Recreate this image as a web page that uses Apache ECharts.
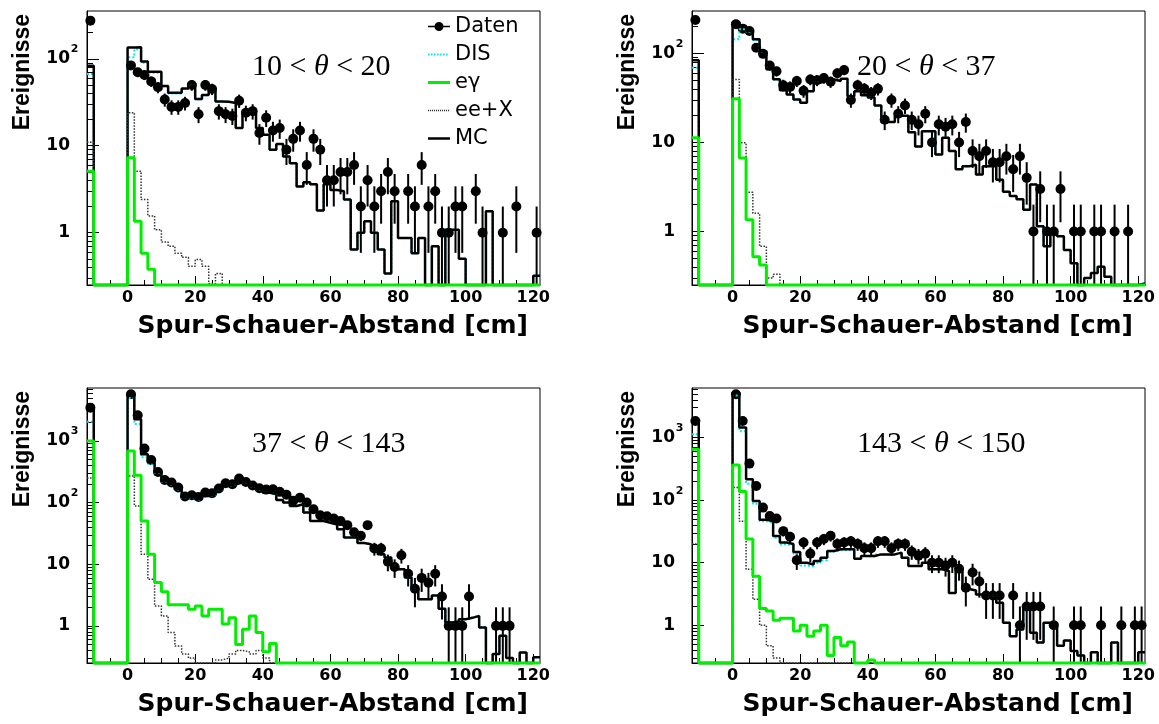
<!DOCTYPE html>
<html>
<head>
<meta charset="utf-8">
<script src="https://cdn.jsdelivr.net/npm/echarts@6/dist/echarts.min.js"></script>
<style>
  html, body { margin: 0; padding: 0; background: #fff; }
  #chart { width: 1159px; height: 724px; }
</style>
</head>
<body>
<div id="chart"></div>
<script>
// Track-to-shower distance, four polar-angle ranges.
// Histograms use 2 cm bins: one underflow bin [-12,-10], empty bins up to 0,
// then 61 bins covering [0,122].
const xStart = -12;
const binWidth = 2;
const gapBins = [0, 0, 0, 0, 0];
const xTicks = [0, 20, 40, 60, 80, 100, 120];
const yTicks = [1, 10, 100, 1000];
const yMin = 0.25;
const yMax = [355, 300, 7200, 6200];
const panelLabels = ['10 < θ < 20', '20 < θ < 37', '37 < θ < 143', '143 < θ < 150'];
const xTitle = 'Spur-Schauer-Abstand [cm]';
const yTitle = 'Ereignisse';
const seriesNames = ['Daten', 'DIS', 'eγ', 'ee+X', 'MC'];

// ---- 10 < theta < 20 ----
const daten1Under = 275;
const daten1 = [84, 70, 65, 55, 47, 34, 28, 28, 31, 50,
  23, 50, 45, 25, 23, 22, 33, 24, 25, 14,
  21, 15, 16, 9, 12, 15, 6, 12, 9, 4,
  4, 5, 5, 6, 2, 4, 2, 3, 5, 3,
  0, 3, 2, 6, 2, 3, 1, 1, 2, 2,
  0, 3, 1, 0, 0, 1, 0, 2, 0, 0,
  1];
const dis1Under = 67;
const dis1 = [104, 129, 90, 69, 70, 48, 40, 40, 45, 52,
  34, 38, 43, 32, 32, 31, 16, 24, 24, 16,
  13.4, 9, 10.5, 7.5, 6.3, 3.4, 3.8, 3.6, 1.8, 3.6,
  3.1, 3.0, 2.4, 0.64, 1.0, 1.35, 1.0, 0.64, 0.34, 2.3,
  0.87, 0.87, 0.58, 0.87, 0, 0.7, 0, 1.08, 1.08, 0.5,
  0, 0, 0, 1.76, 0, 0, 0, 0, 0, 0,
  0.32];
const egamma1Under = 5.1;
const egamma1 = [7.3, 1.35, 0.58, 0.38, 0, 0, 0, 0, 0, 0,
  0, 0, 0, 0, 0, 0, 0, 0, 0, 0,
  0, 0, 0, 0, 0, 0, 0, 0, 0, 0,
  0, 0, 0, 0, 0, 0, 0, 0, 0, 0,
  0, 0, 0, 0, 0, 0, 0, 0, 0, 0,
  0, 0, 0, 0, 0, 0, 0, 0, 0, 0,
  0];
const eex1Under = 11;
const eex1 = [24, 5.1, 2.4, 1.56, 1.08, 0.78, 0.70, 0.58, 0.52, 0.41,
  0.49, 0.41, 0.26, 0.34, 0, 0, 0, 0, 0, 0,
  0, 0, 0, 0, 0, 0, 0, 0, 0, 0,
  0, 0, 0, 0, 0, 0, 0, 0, 0, 0,
  0, 0, 0, 0, 0, 0, 0, 0, 0, 0,
  0, 0, 0, 0, 0, 0, 0, 0, 0, 0,
  0];

// ---- 20 < theta < 37 ----
const daten2Under = 238;
const daten2 = [213, 190, 179, 116, 99, 73, 63, 44, 42, 49,
  38, 51, 50, 53, 48, 60, 65, 30, 44, 40,
  36, 40, 18, 30, 21, 26, 18, 16, 21, 10,
  16, 15, 16, 10, 17, 8, 7, 8, 6, 6,
  7, 5, 7, 4, 1, 3, 1, 1, 3, 0,
  1, 1, 0, 1, 1, 0, 1, 0, 1, 0,
  0];
const dis2Under = 69;
const dis2 = [144, 187, 175, 142, 105, 66, 51, 38.7, 34.6, 30.4,
  27.9, 37.7, 47, 49, 51, 49, 52, 33, 37.7, 34,
  32, 26, 17, 17, 20, 20, 13, 9, 13.4, 13.4,
  7.3, 11.3, 8, 5, 5.4, 5.6, 4.35, 5.4, 5.4, 3.8,
  2.8, 2.5, 2.3, 1.75, 3.36, 1.14, 0.68, 0.96, 0.88, 0.62,
  0.44, 0, 0.3, 0.34, 0.40, 0.31, 0, 0, 0, 0,
  0.26];
const egamma2Under = 11.3;
const egamma2 = [31, 6.7, 1.35, 0.52, 0.42, 0, 0, 0, 0, 0,
  0, 0, 0, 0, 0, 0, 0, 0, 0, 0,
  0, 0, 0, 0, 0, 0, 0, 0, 0, 0,
  0, 0, 0, 0, 0, 0, 0, 0, 0, 0,
  0, 0, 0, 0, 0, 0, 0, 0, 0, 0,
  0, 0, 0, 0, 0, 0, 0, 0, 0, 0,
  0];
const eex2Under = 3.8;
const eex2 = [51, 9.9, 2.75, 1.6, 0.68, 0.3, 0.33, 0, 0, 0,
  0, 0, 0, 0, 0, 0, 0, 0, 0, 0,
  0, 0, 0, 0, 0, 0, 0, 0, 0, 0,
  0, 0, 0, 0, 0, 0, 0, 0, 0, 0,
  0, 0, 0, 0, 0, 0, 0, 0, 0, 0,
  0, 0, 0, 0, 0, 0, 0, 0, 0, 0,
  0];

// ---- 37 < theta < 143 ----
const daten3Under = 3460;
const daten3 = [5690, 2600, 750, 491, 313, 232, 211, 175, 125, 131,
  123, 145, 141, 169, 206, 198, 245, 216, 189, 170,
  162, 164, 149, 134, 107, 120, 100, 78, 62, 60,
  55, 50, 43, 33, 29, 43, 18, 18, 11, 9,
  14, 7, 4, 6, 5, 7, 3, 1, 1, 1,
  3, 0, 0, 0, 1, 1, 1, 0, 0, 0,
  0];
const dis3Under = 2050;
const dis3 = [4944, 1875, 543, 425, 303, 219, 195, 161, 118, 122,
  111, 126, 134, 162, 185, 196, 210, 210, 184, 163,
  144, 135, 110, 100, 88, 94, 69, 50, 50, 47,
  44, 37, 27, 27, 22, 21, 17.5, 14.5, 12.8, 9.4,
  8.3, 6.1, 3.9, 2.7, 2.7, 3.1, 1.9, 1.13, 1.18, 1.28,
  1.35, 1.45, 0.94, 0, 0.35, 0.69, 0.3, 0, 0.37, 0,
  0.31];
const egamma3Under = 996;
const egamma3 = [686, 277, 50, 14.5, 5.05, 3.56, 2.2, 2.2, 2.2, 1.86,
  2.1, 1.45, 1.86, 1.86, 1.07, 1.35, 0.50, 0.88, 1.45, 0.78,
  0.38, 0.52, 0, 0, 0, 0, 0, 0, 0, 0,
  0, 0, 0, 0, 0, 0, 0, 0, 0, 0,
  0, 0, 0, 0, 0, 0, 0, 0, 0, 0,
  0, 0, 0, 0, 0, 0, 0, 0, 0, 0,
  0];
const eex3Under = 250;
const eex3 = [270, 88, 14.5, 5.7, 2.1, 1.45, 0.78, 0.47, 0.35, 0.3,
  0, 0, 0, 0.28, 0.3, 0.35, 0.4, 0.38, 0.35, 0.4,
  0.3, 0, 0, 0, 0, 0, 0, 0, 0, 0,
  0, 0, 0, 0, 0, 0, 0, 0, 0, 0,
  0, 0, 0, 0, 0, 0, 0, 0, 0, 0,
  0, 0, 0, 0, 0, 0, 0, 0, 0, 0,
  0];

// ---- 143 < theta < 150 ----
const daten4Under = 1840;
const daten4 = [4920, 1840, 384, 168, 76, 56, 51, 32, 26, 11,
  21, 14, 21, 24, 27, 20, 21, 22, 20, 17,
  17, 22, 22, 17, 20, 20, 15, 13, 14, 10,
  10, 9, 10, 8, 4, 7, 5, 3, 3, 3,
  0, 3, 1, 2, 2, 2, 0, 1, 0, 0,
  1, 1, 0, 0, 1, 0, 0, 1, 0, 1,
  1];
const dis4Under = 1130;
const dis4 = [4716, 1262, 183, 88, 46, 44, 25.2, 19.7, 18.7, 14,
  9, 8.7, 9.9, 11, 15.1, 15.8, 15.9, 15.9, 11.6, 12.8,
  12.5, 13.6, 13.6, 13.6, 14.5, 12, 8.9, 8.9, 10, 7.85,
  7.85, 7.4, 3.3, 8.2, 3.8, 3.6, 3.1, 3.0, 3.0, 2.3,
  1.1, 0.67, 0.86, 2.0, 0.76, 0.53, 1.1, 1.1, 0.47, 0.57,
  0.39, 0.33, 0, 0.37, 0, 0, 0.53, 0, 0, 0,
  0.37];
const egamma4Under = 650;
const egamma4 = [365, 137, 24, 6.1, 1.85, 1.7, 1.2, 1.3, 1.3, 0.81,
  1.0, 0.67, 0.81, 1.0, 0.33, 0.64, 0.47, 0.54, 0, 0,
  0.28, 0, 0, 0, 0, 0, 0, 0, 0, 0,
  0, 0, 0, 0, 0, 0, 0, 0, 0, 0,
  0, 0, 0, 0, 0, 0, 0, 0, 0, 0,
  0, 0, 0, 0, 0, 0, 0, 0, 0, 0,
  0];
const eex4Under = 20;
const eex4 = [159, 46, 7.9, 2.6, 1.0, 0.47, 0.3, 0, 0, 0,
  0, 0, 0, 0, 0, 0, 0, 0, 0, 0,
  0, 0, 0, 0, 0, 0, 0, 0, 0, 0,
  0, 0, 0, 0, 0, 0, 0, 0, 0, 0,
  0, 0, 0, 0, 0, 0, 0, 0, 0, 0,
  0, 0, 0, 0, 0, 0, 0, 0, 0, 0,
  0];

// ---------------------------------------------------------------------------
const fullHist = (under, bins) => [under].concat(gapBins, bins);

const panels = [
  { daten: fullHist(daten1Under, daten1), dis: fullHist(dis1Under, dis1), eg: fullHist(egamma1Under, egamma1), eex: fullHist(eex1Under, eex1) },
  { daten: fullHist(daten2Under, daten2), dis: fullHist(dis2Under, dis2), eg: fullHist(egamma2Under, egamma2), eex: fullHist(eex2Under, eex2) },
  { daten: fullHist(daten3Under, daten3), dis: fullHist(dis3Under, dis3), eg: fullHist(egamma3Under, egamma3), eex: fullHist(eex3Under, eex3) },
  { daten: fullHist(daten4Under, daten4), dis: fullHist(dis4Under, dis4), eg: fullHist(egamma4Under, egamma4), eex: fullHist(eex4Under, eex4) }
];

const grids = [
  { left: 87, top: 11, width: 453, height: 274 },
  { left: 692, top: 11, width: 453, height: 274 },
  { left: 87, top: 388, width: 453, height: 275 },
  { left: 692, top: 388, width: 453, height: 275 }
];

const xMin = xStart;
const xMax = xStart + binWidth * panels[0].dis.length;

// minor tick positions (every 5 cm / 2..9 per decade)
const xMinorTicks = [];
for (let v = -10; v < xMax; v += 5) if (xTicks.indexOf(v) < 0) xMinorTicks.push(v);
function yMinorTicks(max) {
  const out = [];
  for (let d = 0.1; d < max; d *= 10) {
    for (let m = 2; m <= 9; m++) {
      const v = +(m * d).toPrecision(6);
      if (v > yMin && v < max) out.push(v);
    }
  }
  return out;
}

// histogram outline: each bin becomes a flat step, empty bins sit on the frame bottom
function stepPoints(counts) {
  const pts = counts.map((c, i) => [xStart + i * binWidth, Math.max(c, yMin)]);
  pts.push([xStart + counts.length * binWidth, Math.max(counts[counts.length - 1], yMin)]);
  return pts;
}

function errRender(params, api) {
  const p1 = api.coord([api.value(0), api.value(1)]);
  const p2 = api.coord([api.value(0), api.value(2)]);
  return {
    type: 'line',
    shape: { x1: p1[0], y1: p1[1], x2: p2[0], y2: p2[1] },
    style: { stroke: '#000', lineWidth: 2 }
  };
}

function yLabel(v) {
  const e = Math.round(Math.log10(v));
  if (e === 0) return '{b|1}{s| }';
  if (e === 1) return '{b|10}{s| }';
  return '{b|10}{s|' + e + '}';
}

const option = {
  animation: false,
  backgroundColor: '#fff',
  grid: grids.map(g => Object.assign({
    show: true, borderColor: '#000', borderWidth: 1, backgroundColor: 'transparent',
    containLabel: false, outerBoundsMode: 'none'
  }, g)),
  xAxis: [],
  yAxis: [],
  series: [],
  legend: {
    orient: 'vertical', left: 428, top: 16, padding: 0,
    itemWidth: 22, itemHeight: 20, itemGap: 7,
    selectedMode: false,
    textStyle: { fontFamily: 'DejaVu Sans', fontSize: 21, color: '#000' },
    data: []
  },
  graphic: []
};

panels.forEach((p, i) => {
  const xi = option.xAxis.length;
  const yi = option.yAxis.length;
  const ymax = yMax[i];

  option.xAxis.push({
    type: 'value', gridIndex: i, min: xMin, max: xMax, minInterval: 20, maxInterval: 20,
    axisLine: { show: true, onZero: false, lineStyle: { color: '#000', width: 1 } },
    axisTick: { show: true, inside: true, length: 9, customValues: xTicks, lineStyle: { color: '#000', width: 1 } },
    axisLabel: {
      customValues: xTicks, margin: 5, color: '#000',
      fontFamily: 'DejaVu Sans', fontWeight: 'bold', fontSize: 16,
      formatter: v => (xTicks.indexOf(v) >= 0 ? String(v) : '')
    },
    splitLine: { show: false }
  });
  option.xAxis.push({
    type: 'value', gridIndex: i, min: xMin, max: xMax, position: 'bottom',
    axisLine: { show: false, onZero: false },
    axisTick: { show: true, inside: true, length: 5, customValues: xMinorTicks, lineStyle: { color: '#000', width: 1 } },
    axisLabel: { show: false },
    splitLine: { show: false }
  });

  const majors = yTicks.filter(v => v < ymax);
  option.yAxis.push({
    type: 'log', logBase: 10, gridIndex: i, min: yMin, max: ymax, position: 'left',
    axisLine: { show: true, onZero: false, lineStyle: { color: '#000', width: 1 } },
    axisTick: { show: true, inside: true, length: 12, customValues: majors, lineStyle: { color: '#000', width: 1 } },
    axisLabel: {
      customValues: majors, margin: 8, formatter: yLabel,
      rich: {
        b: { fontFamily: 'DejaVu Sans', fontWeight: 'bold', fontSize: 17, color: '#000', lineHeight: 30 },
        s: { fontFamily: 'DejaVu Sans', fontWeight: 'bold', fontSize: 11, color: '#000', lineHeight: 12, verticalAlign: 'top', width: 9, align: 'left' }
      }
    },
    splitLine: { show: false }
  });
  option.yAxis.push({
    type: 'log', logBase: 10, gridIndex: i, min: yMin, max: ymax, position: 'left',
    axisLine: { show: false, onZero: false },
    axisTick: { show: true, inside: true, length: 6, customValues: yMinorTicks(ymax), lineStyle: { color: '#000', width: 1 } },
    axisLabel: { show: false },
    splitLine: { show: false }
  });

  const mc = p.dis.map((v, k) => v + p.eg[k] + p.eex[k]);
  const line = (name, counts, color, width, type) => ({
    name, type: 'line', xAxisIndex: xi, yAxisIndex: yi, step: 'end',
    symbol: 'none', clip: false, silent: true,
    data: stepPoints(counts),
    itemStyle: { color },
    lineStyle: { color, width, type: type || 'solid', opacity: 1 }
  });

  option.series.push(line('DIS', p.dis, '#00e8f0', 2, 'dotted'));
  option.series.push(line('MC', mc, '#000', 2.5));
  option.series.push(line('ee+X', p.eex, '#333', 1.5, 'dotted'));
  option.series.push(line('eγ', p.eg, '#00ee00', 3));

  const pts = [];
  const errs = [];
  p.daten.forEach((c, k) => {
    if (c <= 0) return;
    const x = xStart + (k + 0.5) * binWidth;
    const s = Math.sqrt(c);
    pts.push([x, c]);
    errs.push([x, Math.max(c - s, yMin), Math.min(c + s, ymax)]);
  });
  option.series.push({
    name: 'Daten', type: 'custom', xAxisIndex: xi, yAxisIndex: yi, silent: true,
    renderItem: errRender, encode: { x: 0, y: [1, 2] }, data: errs
  });
  option.series.push({
    name: 'Daten', type: 'scatter', xAxisIndex: xi, yAxisIndex: yi, silent: true,
    symbol: 'circle', symbolSize: 10, itemStyle: { color: '#000', opacity: 1, borderWidth: 0 }, data: pts
  });

  const g = grids[i];
  option.graphic.push({
    type: 'text', x: g.left + g.width - 12, y: g.top + g.height + 41, silent: true,
    style: { text: xTitle, font: 'bold 25px "DejaVu Sans"', fill: '#000', textAlign: 'right', textVerticalAlign: 'middle' }
  });
  option.graphic.push({
    type: 'text', x: g.left - 64, y: g.top + 3, rotation: Math.PI / 2, silent: true,
    style: { text: yTitle, font: 'bold 23px "Liberation Sans"', fill: '#000', textAlign: 'right', textVerticalAlign: 'middle' }
  });
  option.graphic.push({
    type: 'text', x: g.left + 165, y: g.top + 56, silent: true,
    style: {
      text: panelLabels[i].replace('θ', '{i|θ}'),
      font: '30px "Liberation Serif"', fill: '#000', textAlign: 'left', textVerticalAlign: 'middle',
      rich: { i: { fontFamily: 'Liberation Serif', fontSize: 30, fontStyle: 'italic', fill: '#000', color: '#000' } }
    }
  });
});

// legend icons (22 x 20 box; corner specks pin the box size)
const box = 'M0,0h0.1v0.1h-0.1zM21.9,19.9h0.1v0.1h-0.1z';
function dots(step, w, h) {
  let s = '';
  for (let x = 0; x + w <= 22.01; x += step) s += 'M' + x + ',' + (10 - h / 2) + 'h' + w + 'v' + h + 'h-' + w + 'z';
  return s;
}
const legendIcons = {
  'Daten': 'path://' + box + 'M0,9.2h22v1.6h-22zM6.5,10a4.5,4.5 0 1,1 9,0a4.5,4.5 0 1,1 -9,0z',
  'DIS': 'path://' + box + dots(3, 1.6, 1.8),
  'eγ': 'path://' + box + 'M0,8.6h22v2.8h-22z',
  'ee+X': 'path://' + box + dots(2, 1.1, 1.4),
  'MC': 'path://' + box + 'M0,8.8h22v2.4h-22z'
};
const legendColors = { 'Daten': '#000', 'DIS': '#00e8f0', 'eγ': '#00ee00', 'ee+X': '#333', 'MC': '#000' };
option.legend.data = seriesNames.map(n => ({
  name: n, icon: legendIcons[n], itemStyle: { color: legendColors[n], borderWidth: 0, opacity: 1 }
}));

const chart = echarts.init(document.getElementById('chart'), null, { renderer: 'canvas' });
chart.setOption(option);
</script>
</body>
</html>
